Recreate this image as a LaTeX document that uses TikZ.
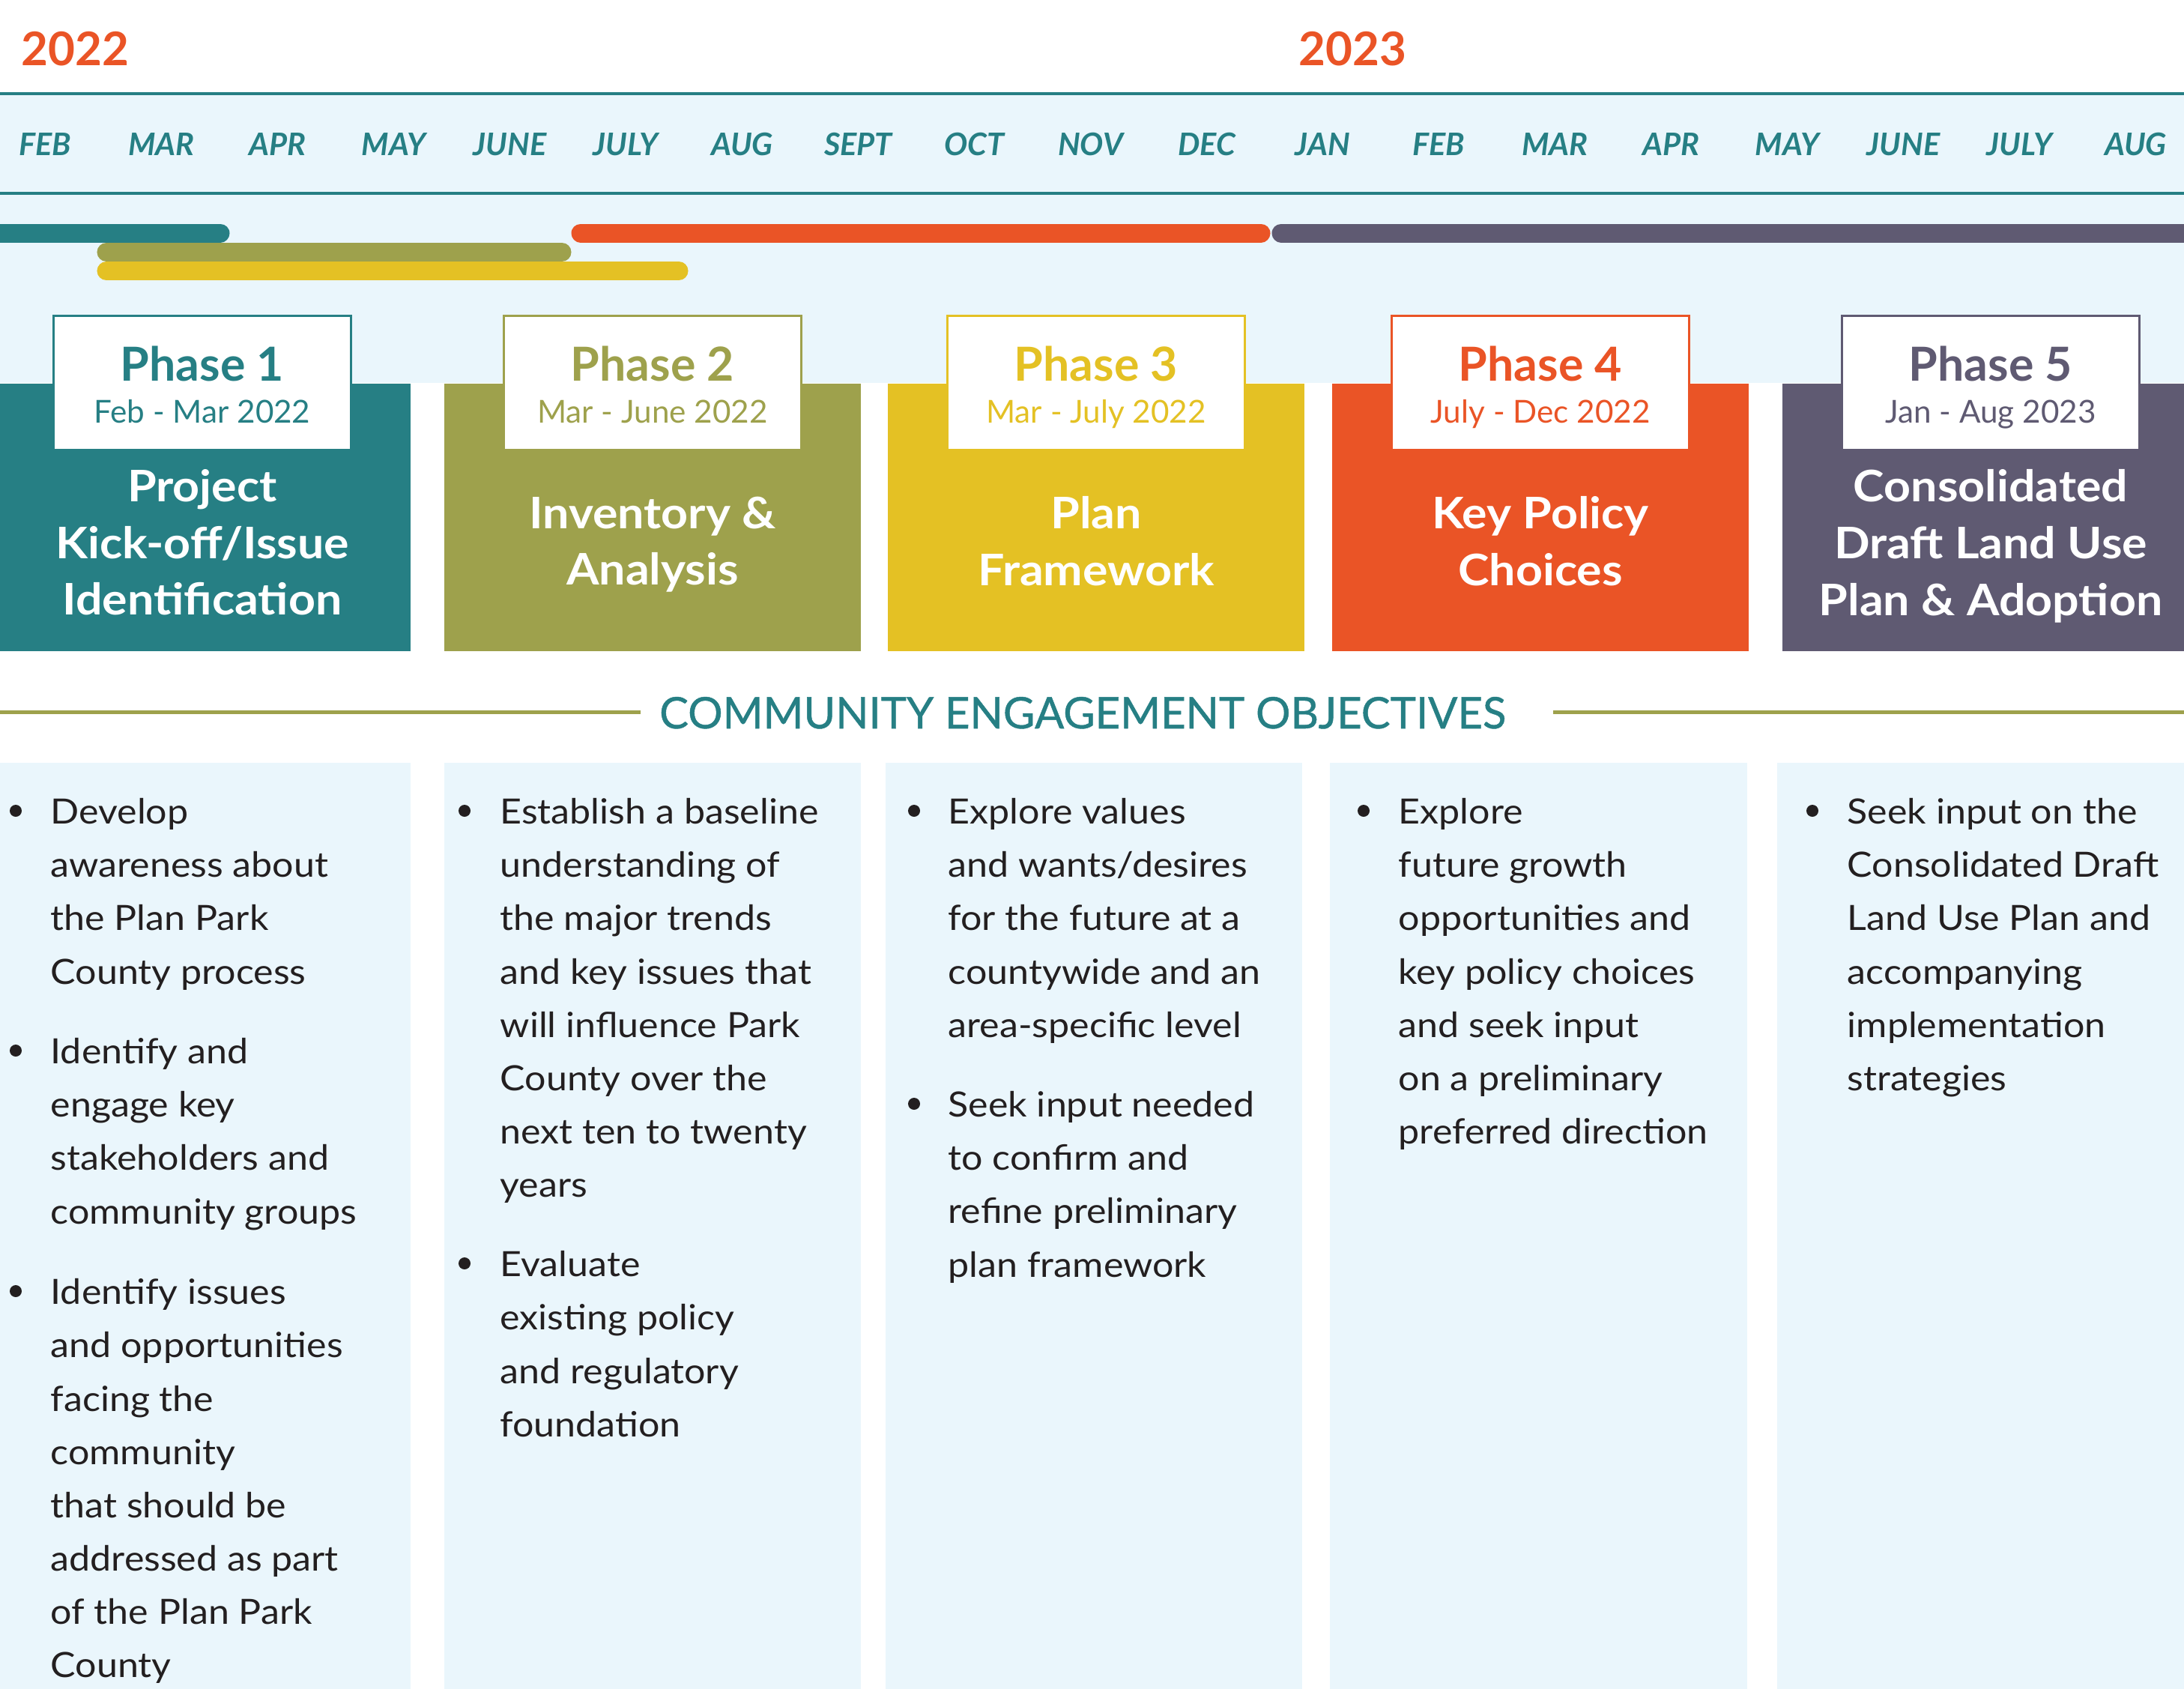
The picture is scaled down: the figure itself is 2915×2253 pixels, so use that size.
\documentclass[tikz,border=0pt]{standalone}
\usepackage{fontspec}
\setmainfont{Lato}
\newfontfamily\bodyfont{Lato}[FakeStretch=1.08]
\newfontfamily\titlefont{Lato}[FakeStretch=1.08]
\newfontfamily\sectionfont{Lato}[FakeBold=0.8]
\usepackage{xcolor}
\usetikzlibrary{positioning}

\definecolor{phaseteal}{HTML}{267F84}
\definecolor{phaseolive}{HTML}{9EA14C}
\definecolor{phaseyellow}{HTML}{E4C124}
\definecolor{phaseorange}{HTML}{EA5426}
\definecolor{phasegrey}{HTML}{5F5A72}
\definecolor{paleblue}{HTML}{EAF6FC}
\definecolor{bodyink}{HTML}{231F20}

\begin{document}
\begin{tikzpicture}[x=0.01cm,y=-0.01cm,
  yearlbl/.style={font=\bfseries\fontsize{17.6}{20}\selectfont,text=phaseorange,anchor=base west,inner sep=0},
  monthlbl/.style={font=\bfseries\itshape\fontsize{11.8}{14}\selectfont,text=phaseteal,anchor=base,inner sep=0},
  bar/.style={line width=0.25cm,line cap=round},
  phasebox/.style={minimum width=5.56cm,minimum height=3.57cm,inner sep=0,anchor=north},
  tagbox/.style={fill=white,draw=#1,line width=0.03cm,minimum width=3.97cm,minimum height=1.79cm,inner sep=0,anchor=north},
  phasenum/.style={font=\bfseries\fontsize{17.8}{20}\selectfont,anchor=base,inner sep=0},
  phasedate/.style={font=\fontsize{12}{14}\selectfont,anchor=base,inner sep=0},
  phasetitle/.style={font=\titlefont\bfseries\fontsize{16.5}{21.5}\selectfont,text=white,align=center,anchor=north,inner sep=0,execute at begin node=\strut},
  sectionlbl/.style={font=\sectionfont\fontsize{16.5}{20}\selectfont,text=phaseteal,anchor=base,inner sep=0},
  rule/.style={draw=phaseolive,line width=0.05cm},
  dot/.style={circle,fill=bodyink,minimum size=0.16cm,inner sep=0},
  bodytxt/.style={font=\bodyfont\fontsize{13.2}{20.2}\selectfont,text=bodyink,align=left,anchor=north west,inner sep=0,execute at begin node=\strut}]
\useasboundingbox (0,0) rectangle (2915,2253);

% timeline band
\fill[paleblue] (0,125) rectangle (2915,511);
\draw[phaseteal,line width=0.04cm] (0,125) -- (2915,125);
\draw[phaseteal,line width=0.04cm] (0,258) -- (2915,258);
\node[yearlbl] (y22) at (28,87) {2022};
\node[yearlbl] (y23) at (1733,87) {2023};
\foreach \m [count=\i from 0] in {FEB,MAR,APR,MAY,JUNE,JULY,AUG,SEPT,OCT,NOV,DEC,JAN,FEB,MAR,APR,MAY,JUNE,JULY,AUG}
  \node[monthlbl] (m\i) at (60.5+155*\i,207) {\m};

% phase bars
\draw[bar,phaseteal] (-20,311) -- (294,311);
\draw[bar,phaseolive] (142,336.5) -- (750,336.5);
\draw[bar,phaseyellow] (142,361.5) -- (906,361.5);
\draw[bar,phaseorange] (775,311) -- (1683,311);
\draw[bar,phasegrey] (1710,311) -- (2950,311);

% phase boxes
\foreach \cx/\col [count=\i] in {270/phaseteal,871/phaseolive,1463/phaseyellow,2056/phaseorange,2657/phasegrey} {
  \node[phasebox,fill=\col] (box\i) at (\cx,511) {};
  \node[tagbox=\col] (tag\i) at (\cx,420) {};
}
\node[phasenum,text=phaseteal] (num1) at (270,508) {Phase 1};
\node[phasedate,text=phaseteal] (date1) at (270,564) {Feb - Mar 2022};
\node[phasenum,text=phaseolive] (num2) at (871,508) {Phase 2};
\node[phasedate,text=phaseolive] (date2) at (871,564) {Mar - June 2022};
\node[phasenum,text=phaseyellow] (num3) at (1463,508) {Phase 3};
\node[phasedate,text=phaseyellow] (date3) at (1463,564) {Mar - July 2022};
\node[phasenum,text=phaseorange] (num4) at (2056,508) {Phase 4};
\node[phasedate,text=phaseorange] (date4) at (2056,564) {July - Dec 2022};
\node[phasenum,text=phasegrey] (num5) at (2657,508) {Phase 5};
\node[phasedate,text=phasegrey] (date5) at (2657,564) {Jan - Aug 2023};

\node[phasetitle] (title1) at (270,626) {Project\\Kick-off/Issue\\Identification};
\node[phasetitle] (title2) at (871,662) {Inventory \&\\Analysis};
\node[phasetitle] (title3) at (1463,662) {Plan\\Framework};
\node[phasetitle] (title4) at (2056,662) {Key Policy\\Choices};
\node[phasetitle] (title5) at (2657,626) {Consolidated\\Draft Land Use\\Plan \& Adoption};

% objectives
\node[sectionlbl] (engage) at (1445,972) {COMMUNITY ENGAGEMENT OBJECTIVES};
\draw[rule] (0,950) -- (855,950);
\draw[rule] (2073,950) -- (2915,950);

\fill[paleblue] (-10,1018) rectangle (548,2260);
\fill[paleblue] (593,1018) rectangle (1149,2260);
\fill[paleblue] (1182,1018) rectangle (1738,2260);
\fill[paleblue] (1775,1018) rectangle (2332,2260);
\fill[paleblue] (2372,1018) rectangle (2930,2260);

% column 1
\node[dot] (d11) at (21,1082) {};
\node[bodytxt] (t11) at (67,1065) {Develop\\awareness about\\the Plan Park\\County process};
\node[dot] (d12) at (21,1402) {};
\node[bodytxt] (t12) at (67,1385) {Identify and\\engage key\\stakeholders and\\community groups};
\node[dot] (d13) at (21,1723) {};
\node[bodytxt] (t13) at (67,1706) {Identify issues\\and opportunities\\facing the\\community\\that should be\\addressed as part\\of the Plan Park\\County};
% column 2
\node[dot] (d21) at (620,1082) {};
\node[bodytxt] (t21) at (667,1065) {Establish a baseline\\understanding of\\the major trends\\and key issues that\\will influence Park\\County over the\\next ten to twenty\\years};
\node[dot] (d22) at (620,1686) {};
\node[bodytxt] (t22) at (667,1669) {Evaluate\\existing policy\\and regulatory\\foundation};
% column 3
\node[dot] (d31) at (1220,1082) {};
\node[bodytxt] (t31) at (1265,1065) {Explore values\\and wants/desires\\for the future at a\\countywide and an\\area-specific level};
\node[dot] (d32) at (1220,1473) {};
\node[bodytxt] (t32) at (1265,1456) {Seek input needed\\to confirm and\\refine preliminary\\plan framework};
% column 4
\node[dot] (d41) at (1820,1082) {};
\node[bodytxt] (t41) at (1866,1065) {Explore\\future growth\\opportunities and\\key policy choices\\and seek input\\on a preliminary\\preferred direction};
% column 5
\node[dot] (d51) at (2419,1082) {};
\node[bodytxt] (t51) at (2465,1065) {Seek input on the\\Consolidated Draft\\Land Use Plan and\\accompanying\\implementation\\strategies};
\end{tikzpicture}
\end{document}
